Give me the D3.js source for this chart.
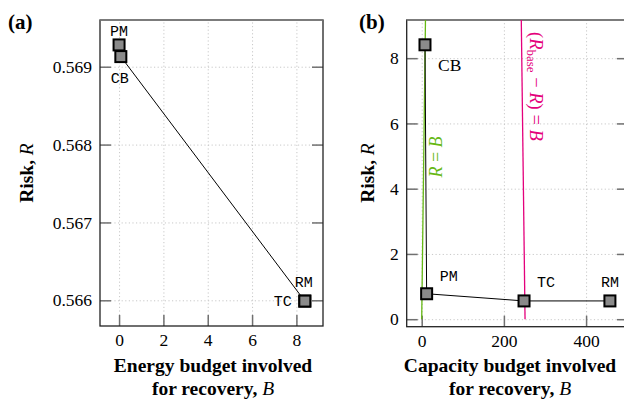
<!DOCTYPE html>
<html>
<head>
<meta charset="utf-8">
<script src="https://cdn.jsdelivr.net/npm/d3@7"></script>
<style>
  body { margin: 0; background: #fff; }
  svg { display: block; }
  text { font-family: "Liberation Serif", "Times New Roman", serif; }
  text.mono { font-family: "Liberation Mono", "Courier New", monospace; }
</style>
</head>
<body>
<div id="chart"></div>
<script>
// panel (a): energy budget
var energyMethods = ["PM", "CB", "TC", "RM"];
var energyBudget = [0, 0.08, 8.38, 8.38];
var energyRisk = [0.56928, 0.56913, 0.56599, 0.56599];
var energyTicksX = [0, 2, 4, 6, 8];
var energyTicksY = [0.566, 0.567, 0.568, 0.569];

// panel (b): capacity budget
var capacityMethods = ["CB", "PM", "TC", "RM"];
var capacityBudget = [8, 12, 249, 458];
var capacityRisk = [8.41, 0.78, 0.56, 0.56];
var capacityTicksX = [0, 200, 400];
var capacityTicksY = [0, 2, 4, 6, 8];
var riskBase = 251.5;
var refRisk = [0, 9.5];

var width = 624,
    height = 405;

var svg = d3.select("#chart")
  .append("svg")
    .attr("width", width)
    .attr("height", height);

function drawFrame(g, x, y, ticksX, ticksY, fmtY, clipId) {
  var x0 = x.range()[0], x1 = x.range()[1];
  var y0 = y.range()[0], y1 = y.range()[1];

  // dotted grid
  g.append("g")
    .attr("transform", "translate(0," + y0 + ")")
    .call(d3.axisBottom(x).tickValues(ticksX).tickSize(-(y0 - y1)).tickFormat(""))
    .call(function(s) { s.select(".domain").remove(); })
    .selectAll("line")
      .attr("stroke", "#c8c8c8")
      .attr("stroke-dasharray", "1.2,2.4");
  g.append("g")
    .attr("transform", "translate(" + x0 + ",0)")
    .call(d3.axisLeft(y).tickValues(ticksY).tickSize(-(x1 - x0)).tickFormat(""))
    .call(function(s) { s.select(".domain").remove(); })
    .selectAll("line")
      .attr("stroke", "#c8c8c8")
      .attr("stroke-dasharray", "1.2,2.4");

  // inward ticks with labels
  var xAxis = g.append("g")
    .attr("transform", "translate(0," + y0 + ")")
    .call(d3.axisBottom(x).tickValues(ticksX).tickSize(-11).tickPadding(8));
  var yAxis = g.append("g")
    .attr("transform", "translate(" + x0 + ",0)")
    .call(d3.axisLeft(y).tickValues(ticksY).tickSize(-11).tickPadding(8).tickFormat(fmtY));
  var yRight = g.append("g")
    .attr("transform", "translate(" + x1 + ",0)")
    .call(d3.axisRight(y).tickValues(ticksY).tickSize(-11).tickFormat(""));
  [xAxis, yAxis, yRight].forEach(function(a) {
    a.select(".domain").remove();
    a.selectAll(".tick line").attr("stroke", "#707070").attr("stroke-width", 1.5);
    a.selectAll(".tick text")
      .attr("fill", "#000")
      .style("font-family", "'Liberation Serif'")
      .style("font-size", "17.5px");
  });

  g.append("rect")
    .attr("x", x0)
    .attr("y", y1)
    .attr("width", x1 - x0)
    .attr("height", y0 - y1)
    .attr("fill", "none")
    .attr("stroke", "#222")
    .attr("stroke-width", 1.3);
  g.append("line")
    .attr("x1", x0).attr("x2", x1)
    .attr("y1", y1).attr("y2", y1)
    .attr("stroke", "#808080")
    .attr("stroke-width", 1.5);

  g.append("clipPath")
    .attr("id", clipId)
    .append("rect")
      .attr("x", x0).attr("y", y1)
      .attr("width", x1 - x0).attr("height", y0 - y1);
}

function drawSeries(g, x, y, budget, risk) {
  var pts = budget.map(function(b, i) { return [x(b), y(risk[i])]; });
  g.append("path")
    .attr("d", d3.line()(pts))
    .attr("fill", "none")
    .attr("stroke", "#000")
    .attr("stroke-width", 1);
  g.selectAll("rect.pt")
    .data(pts)
    .enter()
      .append("rect")
      .attr("class", "pt")
      .attr("x", function(d) { return d[0] - 5.5; })
      .attr("y", function(d) { return d[1] - 5.5; })
      .attr("width", 11)
      .attr("height", 11)
      .attr("fill", "#8a8a8a")
      .attr("stroke", "#000")
      .attr("stroke-width", 2);
  return pts;
}

function addLabel(g, pt, dx, dy, txt, anchor, serif) {
  g.append("text")
    .attr("class", serif ? null : "mono")
    .attr("x", pt[0] + dx)
    .attr("y", pt[1] + dy)
    .attr("text-anchor", anchor)
    .style("font-size", serif ? "17.5px" : "15px")
    .text(txt);
}

function yLabel(g, cx, cy) {
  var t = g.append("text")
    .attr("transform", "translate(" + cx + "," + cy + ") rotate(-90)")
    .attr("text-anchor", "middle")
    .style("font-size", "19.5px")
    .style("font-weight", "bold");
  t.append("tspan").text("Risk, ");
  t.append("tspan").style("font-style", "italic").style("font-weight", "normal").text("R");
}

function xLabel(g, cx, y, first) {
  g.append("text")
    .attr("x", cx).attr("y", y)
    .attr("text-anchor", "middle")
    .style("font-size", "19.5px")
    .style("font-weight", "bold")
    .text(first);
  var t = g.append("text")
    .attr("x", cx).attr("y", y + 23)
    .attr("text-anchor", "middle")
    .style("font-size", "19.5px")
    .style("font-weight", "bold");
  t.append("tspan").text("for recovery, ");
  t.append("tspan").style("font-style", "italic").style("font-weight", "normal").text("B");
}

function panelTitle(g, x, txt) {
  g.append("text")
    .attr("x", x).attr("y", 29)
    .style("font-size", "21px")
    .style("font-weight", "bold")
    .text(txt);
}

// ---- panel (a)
var ga = svg.append("g");
var xa = d3.scaleLinear().domain([-0.86, 9.2]).range([100, 323]);
var ya = d3.scaleLinear().domain([0.56567, 0.5696]).range([326, 20]);
drawFrame(ga, xa, ya, energyTicksX, energyTicksY, d3.format(".3f"), "clip-a");
var pa = drawSeries(ga, xa, ya, energyBudget, energyRisk);
addLabel(ga, pa[0], 0, -9, energyMethods[0], "middle");
addLabel(ga, pa[1], -1, 26, energyMethods[1], "middle");
addLabel(ga, pa[2], -13, 4.5, energyMethods[2], "end");
addLabel(ga, pa[3], -1, -14, energyMethods[3], "middle");
yLabel(ga, 33, 173);
xLabel(ga, 213, 372, "Energy budget involved");
panelTitle(ga, 8, "(a)");

// ---- panel (b)
var gb = svg.append("g");
var xb = d3.scaleLinear().domain([-36.5, 502]).range([406.7, 628]);
var yb = d3.scaleLinear().domain([-0.23, 9.17]).range([326.7, 20]);
drawFrame(gb, xb, yb, capacityTicksX, capacityTicksY, d3.format("d"), "clip-b");

var refs = gb.append("g").attr("clip-path", "url(#clip-b)");
refs.append("path")
  .attr("d", d3.line()(refRisk.map(function(r) { return [xb(r), yb(r)]; })))
  .attr("stroke", "#66b814")
  .attr("stroke-width", 1.3)
  .attr("fill", "none");
refs.append("path")
  .attr("d", d3.line()(refRisk.map(function(r) { return [xb(riskBase - r), yb(r)]; })))
  .attr("stroke", "#e4007c")
  .attr("stroke-width", 1.3)
  .attr("fill", "none");

var pb = drawSeries(gb, xb, yb, capacityBudget, capacityRisk);
addLabel(gb, pb[0], 13, 26, capacityMethods[0], "start", true);
addLabel(gb, pb[1], 13, -13, capacityMethods[1], "start");
addLabel(gb, pb[2], 13, -14, capacityMethods[2], "start");
addLabel(gb, pb[3], -9, -14, capacityMethods[3], "start");

// R = B
var tg = gb.append("text")
  .attr("transform", "translate(442,157) rotate(-90)")
  .attr("text-anchor", "middle")
  .style("font-size", "18px")
  .attr("fill", "#66b814");
tg.append("tspan").style("font-style", "italic").text("R");
tg.append("tspan").text(" = ");
tg.append("tspan").style("font-style", "italic").text("B");

// (R_base - R) = B
var tm = gb.append("text")
  .attr("transform", "translate(530,32) rotate(90)")
  .attr("text-anchor", "start")
  .style("font-size", "18.5px")
  .attr("fill", "#e4007c");
tm.append("tspan").text("(");
tm.append("tspan").style("font-style", "italic").text("R");
tm.append("tspan").style("font-size", "13px").attr("dy", 3).text("base");
tm.append("tspan").attr("dy", -3).text(" \u2212 ");
tm.append("tspan").style("font-style", "italic").text("R");
tm.append("tspan").text(") = ");
tm.append("tspan").style("font-style", "italic").text("B");

yLabel(gb, 374, 173);
xLabel(gb, 510, 372, "Capacity budget involved");
panelTitle(gb, 359, "(b)");
</script>
</body>
</html>
